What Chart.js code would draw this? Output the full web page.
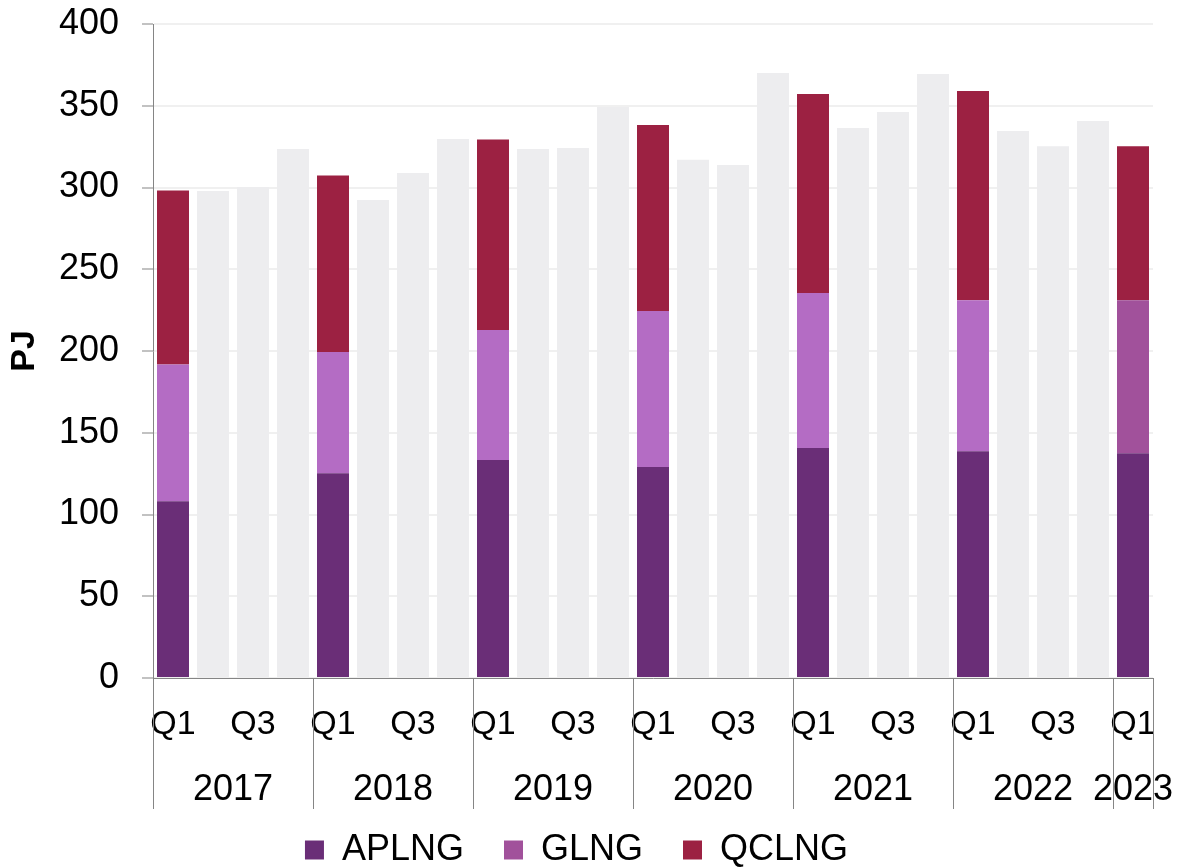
<!DOCTYPE html>
<html>
<head>
<meta charset="utf-8">
<script src="https://cdn.jsdelivr.net/npm/chart.js@4.4.1/dist/chart.umd.min.js"></script>
<style>
	html, body { margin: 0; padding: 0; background: #fff; }
</style>
</head>
<body>
<canvas id="myChart" width="1178" height="868"></canvas>
<script>
const QUARTERS = [
	'Q1', 'Q2', 'Q3', 'Q4',
	'Q1', 'Q2', 'Q3', 'Q4',
	'Q1', 'Q2', 'Q3', 'Q4',
	'Q1', 'Q2', 'Q3', 'Q4',
	'Q1', 'Q2', 'Q3', 'Q4',
	'Q1', 'Q2', 'Q3', 'Q4',
	'Q1'
];
const YEARS = ['2017', '2018', '2019', '2020', '2021', '2022', '2023'];

// PJ by producer, only known for Q1 of each year
const APLNG = [108.1, null, null, null, 125.3, null, null, null, 133.3, null, null, null, 129.0, null, null, null, 140.6, null, null, null, 138.7, null, null, null, 137.5];
const GLNG = [83.6, null, null, null, 74.1, null, null, null, 79.5, null, null, null, 95.4, null, null, null, 94.8, null, null, null, 92.4, null, null, null, 93.6];
const QCLNG = [106.5, null, null, null, 107.9, null, null, null, 116.6, null, null, null, 113.8, null, null, null, 121.8, null, null, null, 127.9, null, null, null, 94.2];
// total for the other quarters
const TOTAL = [null, 297.8, 300.2, 323.5, null, 292.3, 308.8, 329.6, null, 323.5, 324.1, 349.4, null, 316.9, 313.8, 370.0, null, 336.4, 346.2, 369.4, null, 334.5, 325.3, 340.7, null];

const AXIS_GREY = '#858585';
const GLNG_LIGHT = '#b46cc4';
const GLNG_DARK = '#a1519b';
const FONT = "'Liberation Sans', Arial, sans-serif";

Chart.defaults.font.family = FONT;
Chart.defaults.color = '#000';

// year groups along the quarter axis
const groups = [];
QUARTERS.forEach((q, i) => {
	if (q === 'Q1') groups.push({ start: i, end: i });
	else groups[groups.length - 1].end = i;
});
const yearCentres = groups.map(g => (g.start + g.end) / 2);
const yearEdges = [...groups.map(g => g.start - 0.5), QUARTERS.length - 0.5];

const separators = {
	id: 'separators',
	afterDraw(chart) {
		const { ctx, chartArea, scales: { x2 } } = chart;
		ctx.save();
		ctx.strokeStyle = AXIS_GREY;
		ctx.lineWidth = 1;
		ctx.beginPath();
		for (const v of yearEdges) {
			const px = Math.round(x2.getPixelForValue(v)) + 0.5;
			ctx.moveTo(px, chartArea.bottom);
			ctx.lineTo(px, chartArea.bottom + 131);
		}
		ctx.stroke();
		ctx.restore();
	}
};

const noOverhang = s => {
	s.paddingLeft = 0;
	s.paddingRight = 0;
	s.paddingTop = 0;
	s.paddingBottom = 0;
};

const CHART = new Chart(document.getElementById('myChart'), {
	type: 'bar',
	data: {
		labels: QUARTERS,
		datasets: [
			{ label: 'APLNG', data: APLNG, backgroundColor: '#6a2e77' },
			{
				label: 'GLNG',
				data: GLNG,
				backgroundColor: c => c.dataIndex === QUARTERS.length - 1 ? GLNG_DARK : GLNG_LIGHT
			},
			{ label: 'QCLNG', data: QCLNG, backgroundColor: '#9c2142' },
			{ label: 'Total', data: TOTAL, backgroundColor: '#ededef' }
		]
	},
	options: {
		responsive: false,
		animation: false,
		devicePixelRatio: 1,
		layout: { padding: { top: 24, right: 25, left: 0, bottom: -10 } },
		datasets: {
			bar: { categoryPercentage: 1, barPercentage: 0.8, skipNull: true }
		},
		scales: {
			x: {
				stacked: true,
				weight: 0,
				grid: { drawOnChartArea: false, drawTicks: false },
				border: { display: true, color: AXIS_GREY, width: 1 },
				ticks: {
					autoSkip: false,
					maxRotation: 0,
					padding: 26,
					font: { size: 34 },
					callback: (v, i) => (QUARTERS[i] === 'Q1' || QUARTERS[i] === 'Q3') ? QUARTERS[i] : ''
				},
				afterFit: s => { s.height = 70; noOverhang(s) }
			},
			x2: {
				type: 'linear',
				position: 'bottom',
				weight: 1,
				offset: false,
				min: -0.5,
				max: QUARTERS.length - 0.5,
				grid: { display: false },
				border: { display: false },
				afterBuildTicks: s => { s.ticks = yearCentres.map(value => ({ value })) },
				ticks: {
					autoSkip: false,
					maxRotation: 0,
					mirror: true,
					padding: -64,
					font: { size: 36 },
					callback: (v, i) => YEARS[i]
				},
				afterFit: s => { s.height = 44; noOverhang(s) }
			},
			y: {
				stacked: true,
				min: 0,
				max: 400,
				ticks: { stepSize: 50, padding: 23, font: { size: 36 } },
				grid: { color: '#f0f0f0', lineWidth: 2, tickColor: AXIS_GREY, tickLength: 11, tickWidth: 1 },
				border: { display: true, color: AXIS_GREY, width: 1 },
				title: { display: true, text: 'PJ', font: { size: 34, weight: 'bold' }, padding: { top: 4, bottom: 0 } },
				afterFit: s => { s.width = 153; noOverhang(s) }
			}
		},
		plugins: {
			legend: {
				position: 'bottom',
				labels: {
					boxWidth: 19,
					boxHeight: 19,
					padding: 40,
					font: { size: 36 },
					filter: item => item.text !== 'Total',
					generateLabels: chart => Chart.defaults.plugins.legend.labels.generateLabels(chart)
						.map(item => item.text === 'GLNG' ? { ...item, fillStyle: GLNG_DARK } : item)
				}
			},
			tooltip: { enabled: false }
		}
	},
	plugins: [separators]
});
</script>
</body>
</html>
